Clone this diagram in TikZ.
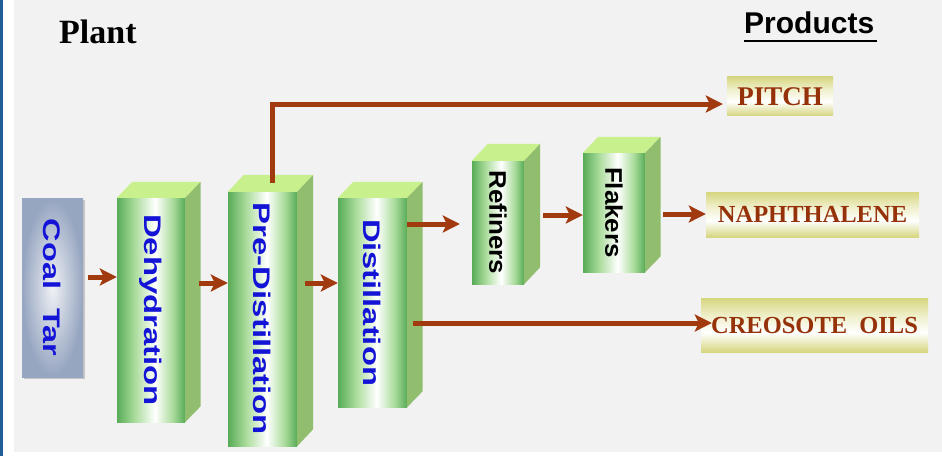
\documentclass[tikz,border=0pt]{standalone}
\usepackage{fontspec}
\usepackage{graphicx}
\setmainfont{Liberation Serif}
\setsansfont{Liberation Sans}
\usetikzlibrary{arrows.meta,shadows}
\definecolor{bgc}{RGB}{242,242,242}
\definecolor{blueline}{RGB}{31,95,150}
\definecolor{arrc}{RGB}{162,58,16}
\definecolor{prodtxt}{RGB}{150,50,10}
\definecolor{txtblue}{RGB}{20,20,215}
\definecolor{gA}{RGB}{88,172,88}
\definecolor{gB}{RGB}{170,220,155}
\definecolor{topg}{RGB}{200,240,140}
\definecolor{sideg}{RGB}{145,190,110}
\definecolor{py}{RGB}{214,214,128}
\definecolor{pyl}{RGB}{240,240,205}
\definecolor{cb}{RGB}{150,165,192}
\pgfdeclarehorizontalshading{prismfront}{100bp}{color(0bp)=(gA); color(25bp)=(gA); color(38bp)=(gB); color(53bp)=(white); color(66bp)=(gB); color(75bp)=(gA); color(100bp)=(gA)}
\pgfdeclareverticalshading{prodshade}{100bp}{color(0bp)=(py); color(25bp)=(py); color(43bp)=(white); color(58bp)=(pyl); color(75bp)=(py); color(100bp)=(py)}
\newcommand\prismsides[3]{%
  \fill[topg] (#1.north west) -- ++(#2,#3) -- ([shift={(#2,#3)}]#1.north east) -- (#1.north east) -- cycle;
  \fill[sideg] (#1.north east) -- ++(#2,#3) -- ([shift={(#2,#3)}]#1.south east) -- (#1.south east) -- cycle;}
\tikzset{
  front/.style={shading=prismfront, inner sep=0pt, draw=none},
  bluetxt/.style={text=txtblue, font=\sffamily\bfseries\fontsize{24}{26}\selectfont},
  blacktxt/.style={text=black, font=\sffamily\bfseries\fontsize{24}{26}\selectfont},
  prod/.style={shading=prodshade, inner sep=0pt, text=prodtxt, text depth=0pt},
  arr/.style={draw=arrc, line width=5pt, -{Stealth[length=17pt,width=17pt,inset=4pt]}}
}
\begin{document}
\begin{tikzpicture}[x=1pt,y=-1pt]
\useasboundingbox (0,0) rectangle (942,456);
\fill[white] (0,0) rectangle (942,456);
\fill[bgc] (14,0) rectangle (942,452);
\fill[blueline] (0,0) rectangle (2.5,456);

% titles
\node[anchor=base west, inner sep=0pt, font=\bfseries\fontsize{34}{36}\selectfont] (plant) at (59,43) {Plant};
\node[anchor=base west, inner sep=0pt, font=\sffamily\bfseries\fontsize{30}{32}\selectfont] (prodt) at (744,33) {Products};
\draw[line width=2.2pt] ([yshift=-8pt]prodt.base west) -- ([yshift=-8pt,xshift=3pt]prodt.base east);

% coal tar
\node[inner sep=0pt, minimum width=61pt, minimum height=179pt, inner color=cb!15, outer color=cb,
      drop shadow={shadow xshift=2pt, shadow yshift=-2pt, fill=black!40, opacity=0.5},
      text=txtblue, font=\sffamily\bfseries\fontsize{24}{26}\selectfont] (coal) at (52.5,287.5)
  {\rotatebox{-90}{\scalebox{1.35}[1]{Coal\hspace{14pt}Tar}}};

% prisms
\node[front, bluetxt, minimum width=68pt, minimum height=224pt] (dehyd) at (151,310)
  {\rotatebox{-90}{\scalebox{1.37}[1]{Dehydration}}};
\prismsides{dehyd}{15.5}{-16}
\node[front, bluetxt, minimum width=69pt, minimum height=254pt] (predist) at (262.5,319)
  {\rotatebox{-90}{\scalebox{1.37}[1]{Pre-Distillation}}};
\prismsides{predist}{16}{-17}
\node[front, bluetxt, minimum width=69pt, minimum height=209pt] (dist) at (372.5,302.5)
  {\rotatebox{-90}{\scalebox{1.36}[1]{Distillation}}};
\prismsides{dist}{15.5}{-16}
\node[front, blacktxt, minimum width=52pt, minimum height=123pt] (ref) at (498,222.5)
  {\rotatebox{-90}{\scalebox{1.08}[1]{Refiners}}};
\prismsides{ref}{16}{-17}
\node[front, blacktxt, minimum width=62pt, minimum height=119pt] (flak) at (614,212.5)
  {\rotatebox{-90}{\scalebox{1.08}[1]{Flakers}}};
\prismsides{flak}{15.5}{-16}

% products
\node[prod, minimum width=106pt, minimum height=39pt, text height=18pt,
      font=\bfseries\fontsize{27}{29}\selectfont] (pitch) at (780,96) {PITCH};
\node[prod, minimum width=213pt, minimum height=45pt, text height=16pt,
      font=\bfseries\fontsize{24.5}{26}\selectfont] (naph) at (812.5,214.5) {NAPHTHALENE};
\node[prod, minimum width=227pt, minimum height=54pt, text height=16pt,
      font=\bfseries\fontsize{24.5}{26}\selectfont] (creo) at (814.5,325) {CREOSOTE\hspace{6pt} OILS};

% arrows
\draw[arr, shorten <=5pt] (coal.east |- 0,277) -- (dehyd.west |- 0,277);
\draw[arr, shorten <=14pt] (dehyd.east |- 0,283) -- (predist.west |- 0,283);
\draw[arr, shorten <=8pt] (predist.east |- 0,283) -- (dist.west |- 0,283);
\draw[arr, shorten >=12pt] (dist.east |- 0,224) -- (ref.west |- 0,224);
\draw[arr, shorten <=19pt] (ref.east |- 0,215) -- (flak.west |- 0,215);
\draw[arr, shorten <=18pt] (flak.east |- 0,214) -- (naph.west |- 0,214);
\draw[arr, shorten <=6pt, shorten >=-11pt] (dist.east |- 0,323) -- (creo.west |- 0,323);
\draw[arr, shorten >=4pt] ([xshift=9.5pt,yshift=9pt]predist.north) |- (pitch.west |- 0,104);
\end{tikzpicture}
\end{document}
